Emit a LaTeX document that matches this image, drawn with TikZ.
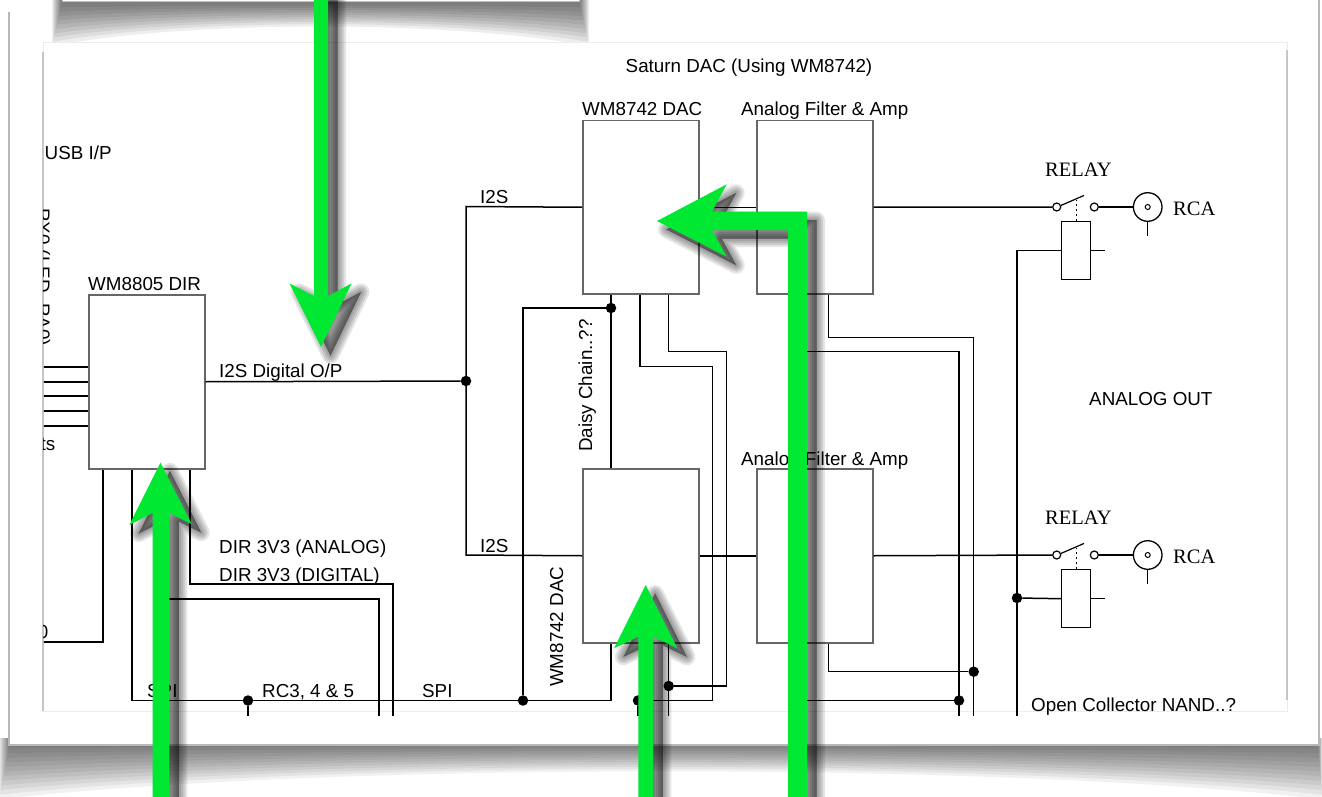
\documentclass[tikz,border=0pt]{standalone}
\usepackage{fontspec}
\setmainfont{Liberation Sans}
\newfontfamily\serifr{Liberation Serif}
\definecolor{agreen}{RGB}{0,232,50}
\newcommand\arrowA[1]{\path[#1] (314,-8) -- (314,296) -- (289.6,283.5) -- (321,347) -- (351.5,283.5) -- (328,296) -- (328,-8) -- cycle;}
\newcommand\arrowB[1]{\path[#1] (152.7,805) -- (152.7,513) -- (129.3,525) -- (160.5,462.7) -- (191.7,524) -- (169.3,513) -- (169.3,805) -- cycle;}
\newcommand\arrowC[1]{\path[#1] (638.3,805) -- (638.3,636.7) -- (614,648.3) -- (645.7,585) -- (677.3,648.3) -- (653.3,636.7) -- (653.3,805) -- cycle;}
\newcommand\arrowD[1]{\path[#1] (788,805) -- (788,230) -- (712,230) -- (726.7,256.7) -- (657,221) -- (726.7,184.3) -- (712,211.7) -- (807,211.7) -- (807,805) -- cycle;}
\begin{document}
\begin{tikzpicture}[x=1pt,y=-1pt,
  wire/.style={line width=1.5pt,black},
  boxst/.style={draw=black!60,line width=1.5pt,fill=white,inner sep=0pt,anchor=north west,minimum width=116pt},
  coil/.style={draw=black,line width=1.4pt,fill=white,inner sep=0pt,anchor=north west,minimum width=29pt,minimum height=58pt},
  lbl/.style={font=\fontsize{18.8}{20}\selectfont,inner sep=0pt,anchor=base west},
  slbl/.style={font=\serifr\fontsize{20.5}{22}\selectfont,inner sep=0pt,anchor=base west},
  dot/.style={circle,fill=black,inner sep=0pt,minimum size=10.5pt},
  ring/.style={circle,draw=black,line width=1.2pt,fill=white,inner sep=0pt},
  shad/.style={fill=black,draw=black,opacity=0.1,line join=round,shift={(9.5,8.5)}}]
\useasboundingbox (0,0) rectangle (1322,797);
\fill[white] (0,0) rectangle (1322,797);
% page shadow (curled)
\foreach \i in {1,...,12}{
  \fill[black,opacity=0.055] ({10-0.9*\i},738) -- ({1318+0.35*\i},738) -- ({1318+0.35*\i},{744+4.6*\i}) .. controls (1000,{744+1.5*\i}) and (330,{744+1.5*\i}) .. ({10-0.9*\i},{744+4.6*\i}) -- cycle;
}
% page
\fill[white] (9,-10) rectangle (1319,745);
\draw[gray!55,line width=1.3pt] (9,12) -- (9,745) -- (1319,745) -- (1319,-10);
% top panel shadow
\foreach \i in {1,...,10}{
  \fill[black,opacity=0.065] ({62-1.0*\i},0) -- ({579+1.0*\i},0) -- ({579+1.0*\i},{3+4.3*\i}) .. controls (450,{3+1.7*\i}) and (190,{3+1.7*\i}) .. ({62-1.0*\i},{3+4.3*\i}) -- cycle;
}
\fill[white] (62,-10) rectangle (579,2);
\draw[gray!50,line width=1pt] (62,-10) -- (62,2) -- (579,2) -- (579,-10);
% inner panel
\fill[white] (43,43) rectangle (1287,711);
\draw[gray!15,line width=1pt] (43,43) rectangle (1287,711);
\draw[gray!45,line width=1.5pt] (43,52) -- (43,711);
\draw[gray!45,line width=1.5pt] (1287,50) -- (1287,700);

\begin{scope}
\clip (43.8,43) rectangle (1286,715);
% boxes
\node[boxst,minimum height=174pt] (dir) at (88,294) {};
\node[boxst,minimum height=173pt] (dacA) at (582,120) {};
\node[boxst,minimum height=173pt] (filA) at (756,120) {};
\node[boxst,minimum height=174pt] (dacB) at (582,468) {};
\node[boxst,minimum height=174pt] (filB) at (756,468) {};
\node[coil] (coilA) at (1061,221) {};
\node[coil] (coilB) at (1061,569) {};
% junctions
\node[dot] (jIn) at (466,381) {};
\node[dot] (jDC) at (611,308) {};
\node[dot] (jS1) at (248,700.5) {};
\node[dot] (jS2) at (523,700.5) {};
\node[dot] (jB1) at (638,700.5) {};
\node[dot] (jB2) at (668.7,686) {};
\node[dot] (jF1) at (973.7,671.7) {};
\node[dot] (jF2) at (959,700.5) {};
\node[dot] (jR) at (1017,598) {};
% relay contacts and RCA
\node[ring,minimum size=8pt] (s1a) at (1056.7,207) {};
\node[ring,minimum size=8pt] (s1b) at (1094.3,207) {};
\node[ring,minimum size=28.6pt,line width=1.3pt] (rcaA) at (1147.7,207) {};
\node[ring,minimum size=5pt,line width=1pt] (rcaAi) at (1147.7,207) {};
\node[ring,minimum size=8pt] (s2a) at (1056.7,555) {};
\node[ring,minimum size=8pt] (s2b) at (1094.3,555) {};
\node[ring,minimum size=28.6pt,line width=1.3pt] (rcaB) at (1147.7,555) {};
\node[ring,minimum size=5pt,line width=1pt] (rcaBi) at (1147.7,555) {};

% wires
\foreach \o in {14.3,0,-14.7,-29,-44}{\draw[wire,line width=2pt] ([yshift=\o pt]dir.west) -- ++(-60,0);}
\draw[wire] ([xshift=15pt]dir.south west) |- (30,642);
\draw[wire] ([xshift=44pt]dir.south west) -- (132,700.5) -- (611,700.5) -- ([xshift=29pt]dacB.south west);
\draw[wire] ([xshift=72pt]dir.south west) |- (379,599) -- (379,716);
\draw[wire] ([xshift=102pt]dir.south west) |- (393,584) -- (393,716);
\draw[wire] (jS1) -- (248,716);
\draw[wire] (dir.east) -- (jIn);
\draw[wire] (dacA.west) -- (466,206.5) -- (466,555) -- (dacB.west);
\draw[wire,line width=2.1pt] ([xshift=29pt]dacA.south west) -- ([xshift=29pt]dacB.north west);
\draw[wire] (jDC) -| (jS2);
\draw[wire] ([xshift=58pt]dacA.south west) |- (712.7,366.7) |- (jB1);
\draw[wire] (jB1) -- (638,716);
\draw[wire] ([xshift=86.7pt]dacA.south west) |- (726.7,351.7) |- (jB2);
\draw[wire] ([xshift=86.7pt]dacB.south west) -- (668.7,716);
\draw[wire] (dacA.east) -- (filA.west);
\draw[wire] (dacB.east) -- (filB.west);
\draw[wire] (filA.east) -- (s1a);
\draw[wire] (filB.east) -- (s2a);
\draw[wire] ([xshift=72.7pt]filA.south west) |- (973.7,337.7) -- (973.7,716);
\draw[wire] ([xshift=44pt]filA.south west) |- (959,351.7) -- (959,716);
\draw[wire] ([xshift=72.7pt]filB.south west) |- (jF1);
\draw[wire] ([xshift=39pt]filB.south west) |- (jF2);
\draw[wire] (coilA.west) -| (1017,716);
\draw[wire] (jR) -- (coilB.west);
\draw[wire] (coilA.east) -- ++(14,0);
\draw[wire] (coilB.east) -- ++(14,0);
% relay switches
\draw[wire,line width=1.2pt] (s1a.20) -- ++(23,-10);
\draw[wire,line width=1.2pt] (s2a.20) -- ++(23,-10);
\draw[black,line width=1pt,dash pattern=on 2.5pt off 2.5pt] (coilA.north) -- ++(0,-21);
\draw[black,line width=1pt,dash pattern=on 2.5pt off 2.5pt] (coilB.north) -- ++(0,-21);
\draw[wire,line width=1.2pt] (s1b) -- (rcaA);
\draw[wire,line width=1.2pt] (s2b) -- (rcaB);
\draw[wire,line width=1.2pt] (rcaA.south) -- ++(0,14.5);
\draw[wire,line width=1.2pt] (rcaB.south) -- ++(0,14.5);

% labels
\node[lbl,anchor=base] (tTitle) at (749,73) {Saturn DAC (Using WM8742)};
\node[lbl] (tUSB) at (44.5,160) {USB I/P};
\node[lbl,rotate=-90] (tRX) at (36.5,208) {RX0 (LED\_RA0)};
\node[lbl,anchor=base east] (tTs) at (55.5,450) {ts};
\node[lbl,anchor=base east] (tZero) at (48.5,638) {0};
\node[lbl] (tDIR) at (88,290) {WM8805 DIR};
\node[lbl] (tI2SD) at (219,377) {I2S Digital O/P};
\node[lbl] (tI2Sa) at (480,203) {I2S};
\node[lbl] (tI2Sb) at (480,552) {I2S};
\node[lbl] (tDacA) at (582,116) {WM8742 DAC};
\node[lbl] (tFilA) at (741,116) {Analog Filter \& Amp};
\node[lbl] (tFilB) at (741,465) {Analog Filter \& Amp};
\node[slbl] (tRelayA) at (1045,176) {RELAY};
\node[slbl] (tRcaA) at (1173,215) {RCA};
\node[slbl] (tRelayB) at (1045,524) {RELAY};
\node[slbl] (tRcaB) at (1173,563) {RCA};
\node[lbl] (tAOut) at (1089,405) {ANALOG OUT};
\node[lbl,rotate=90] (tDaisy) at (592,452) {Daisy Chain..??};
\node[lbl,rotate=90] (tDacB) at (563,687) {WM8742 DAC};
\node[lbl] (tDirA) at (219,553) {DIR 3V3 (ANALOG)};
\node[lbl] (tDirD) at (219,581) {DIR 3V3 (DIGITAL)};
\node[lbl] (tSPIa) at (147,697) {SPI};
\node[lbl] (tRC) at (262,697) {RC3, 4 \& 5};
\node[lbl] (tSPIb) at (422,697) {SPI};
\node[lbl] (tOC) at (1031,711) {Open Collector NAND..?};
\end{scope}

% green arrows with soft shadows
\foreach \w in {17,13,9,5,1}{
  \arrowA{shad,line width=\w pt}
  \arrowB{shad,line width=\w pt}
  \arrowC{shad,line width=\w pt}
  \arrowD{shad,line width=\w pt}
}
\arrowA{fill=agreen}
\arrowB{fill=agreen}
\arrowC{fill=agreen}
\arrowD{fill=agreen}
\end{tikzpicture}
\end{document}
